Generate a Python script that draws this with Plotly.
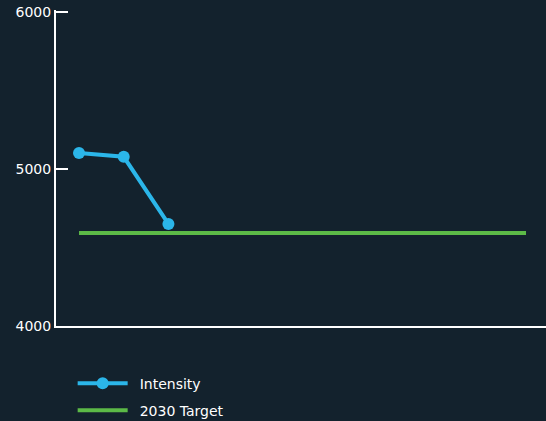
import plotly.graph_objects as go

years = [str(y) for y in range(2020, 2031)]
intensity = [5102, 5078, 4650]
target = [4592] * len(years)

BG = "#13222d"
BLUE = "#2bb6e9"
GREEN = "#5cba47"

fig = go.Figure()
fig.add_trace(go.Scatter(
    x=years[:len(intensity)], y=intensity, name="\u2002Intensity",
    mode="lines+markers", line=dict(color=BLUE, width=4),
    marker=dict(size=12, color=BLUE), legendgroup="a"))
fig.add_trace(go.Scatter(
    x=years, y=target, name="\u20022030 Target", mode="lines",
    line=dict(color=GREEN, width=4), legendgroup="b"))

fig.update_layout(
    width=546, height=421,
    paper_bgcolor=BG, plot_bgcolor=BG,
    margin=dict(l=56, r=0, t=10, b=95, autoexpand=False),
    font=dict(family="DejaVu Sans", color="white", size=14),
    showlegend=True,
    legend=dict(orientation="v", x=0.034, y=0.127, yref="container",
                xanchor="left", yanchor="top",
                tracegroupgap=6, itemwidth=50, font=dict(size=14)),
    xaxis=dict(type="category", categoryorder="array", categoryarray=years,
               range=[-0.515, 10.447], showticklabels=False, showgrid=False,
               showline=True, linecolor="white", linewidth=2, ticks="",
               zeroline=False, fixedrange=True),
    yaxis=dict(range=[4000, 6013], tickvals=[4000, 5000, 6000],
               showgrid=False, showline=True, linecolor="white", linewidth=2,
               ticks="inside", ticklen=12, tickwidth=2, tickcolor="white",
               zeroline=False, tickfont=dict(size=14)),
)

fig.write_html("out.html")
